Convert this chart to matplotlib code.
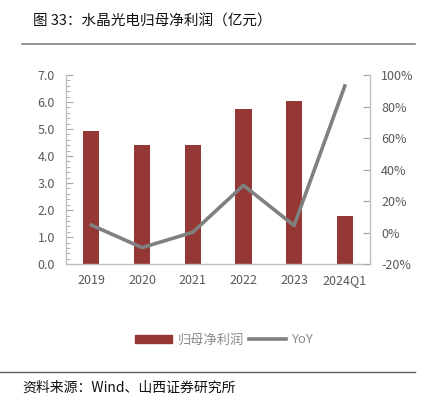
import numpy as np
import matplotlib
matplotlib.use("Agg")
import matplotlib.pyplot as plt
from matplotlib.ticker import MultipleLocator, FuncFormatter
from matplotlib.lines import Line2D

plt.rcParams['font.family'] = ['Noto Sans CJK SC', 'DejaVu Sans']

years = ["2019", "2020", "2021", "2022", "2023", "2024Q1"]
profit = [4.92, 4.41, 4.40, 5.75, 6.02, 1.78]
yoy = [4.8, -9.5, 0.2, 30.0, 4.5, 93.0]

bar_color = "#953735"
line_color = "#808080"
text_color = "#595959"

fig = plt.figure(figsize=(4.23, 3.99), dpi=100)
ax = fig.add_axes([0.156, 0.338, 0.719, 0.474])
ax2 = ax.twinx()

x = np.arange(len(years))
ax.bar(x, profit, width=0.32, color=bar_color, zorder=2)
ax2.plot(x, yoy, color=line_color, lw=2.6, zorder=3)

ax.set_xlim(-0.5, len(years) - 0.5)
ax.set_ylim(0, 7)
ax.yaxis.set_major_locator(MultipleLocator(1))
ax.yaxis.set_minor_locator(MultipleLocator(0.2))
ax.yaxis.set_major_formatter(FuncFormatter(lambda v, p: f"{v:.1f}"))
ax2.set_ylim(-20, 100)
ax2.yaxis.set_major_locator(MultipleLocator(20))
ax2.yaxis.set_major_formatter(FuncFormatter(lambda v, p: f"{v:.0f}%"))

ax.set_xticks(x)
ax.set_xticklabels(years)
ax.tick_params(axis='x', length=0, pad=7, labelsize=9, labelcolor=text_color)
ax.tick_params(axis='y', which='major', direction='in', length=5, color="#a6a6a6",
               labelsize=9, labelcolor=text_color, pad=8)
ax.tick_params(axis='y', which='minor', direction='in', length=3, color="#a6a6a6")
ax2.tick_params(axis='y', direction='in', length=5, color="#a6a6a6",
                labelsize=9, labelcolor=text_color, pad=8)

for a in (ax, ax2):
    a.spines['top'].set_visible(False)
    for s in ('left', 'right', 'bottom'):
        a.spines[s].set_color("#bfbfbf")
        a.spines[s].set_linewidth(1.0)
ax.spines['right'].set_visible(False)
ax2.spines['left'].set_visible(False)
ax2.spines['bottom'].set_visible(False)
ax.set_zorder(ax2.get_zorder() - 1)
ax.patch.set_visible(False)
ax2.patch.set_visible(False)

handles = [plt.Rectangle((0, 0), 1, 1, color=bar_color),
           Line2D([0], [0], color=line_color, lw=2.6)]
leg = fig.legend(handles, ["归母净利润", "YoY"], loc='center',
                 bbox_to_anchor=(0.53, 0.148), ncol=2, frameon=False,
                 fontsize=9.5, handlelength=2.8, handleheight=0.6,
                 columnspacing=0.4, handletextpad=0.4)
for t in leg.get_texts():
    t.set_color("#8c8c8c")

fig.text(0.078, 0.945, "图 33：水晶光电归母净利润（亿元）", fontsize=10.5,
         va='center', ha='left', color="#111111")
fig.add_artist(Line2D([0.052, 0.981], [0.890, 0.890], color="#808080", lw=1.2))
fig.add_artist(Line2D([0.0, 0.981], [0.068, 0.068], color="#606060", lw=1.0))
fig.text(0.052, 0.028, "资料来源：Wind、山西证券研究所", fontsize=10,
         va='center', ha='left', color="#111111")

fig.savefig("out.png", dpi=100)
